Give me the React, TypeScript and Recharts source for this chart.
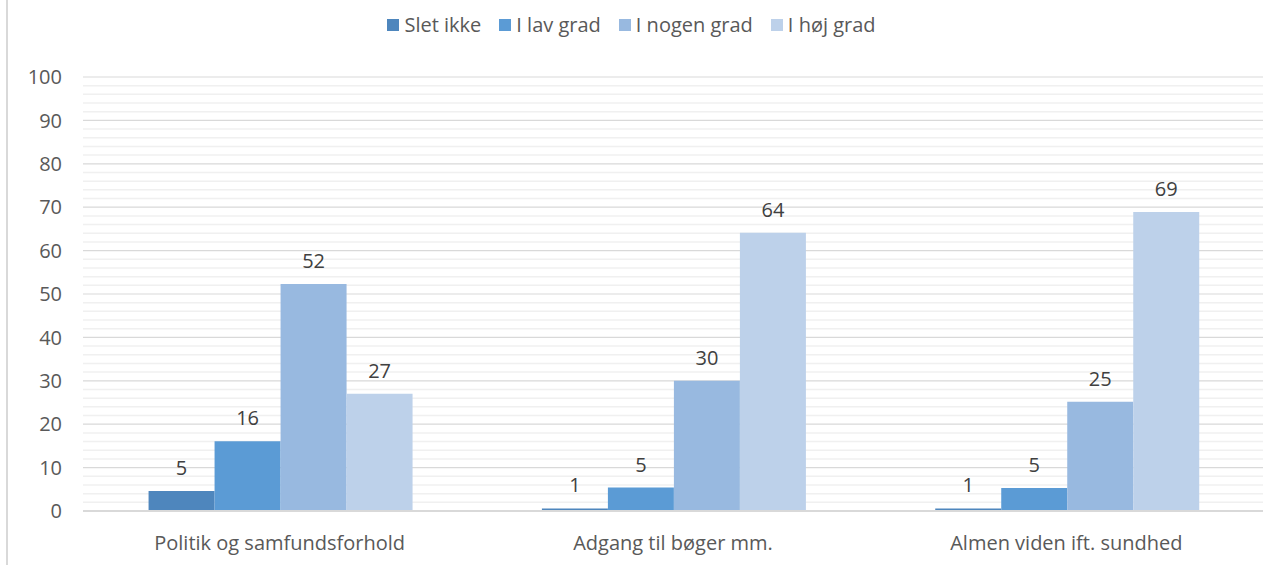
import React from 'react';
import { BarChart, Bar, XAxis, YAxis, CartesianGrid, Legend, LabelList } from 'recharts';

const categories = ['Politik og samfundsforhold', 'Adgang til bøger mm.', 'Almen viden ift. sundhed'];
const seriesNames = ['Slet ikke', 'I lav grad', 'I nogen grad', 'I høj grad'];
const sletIkke = [4.6, 0.6, 0.6];
const lavGrad = [16.1, 5.4, 5.3];
const nogenGrad = [52.3, 30.0, 25.2];
const hojGrad = [27.0, 64.1, 68.9];
const colors = ['#4e86bd', '#5b9bd5', '#98b9e0', '#bdd1ea'];
const gridTicks = [0, 2, 4, 6, 8, 10, 12, 14, 16, 18, 20, 22, 24, 26, 28, 30, 32, 34, 36, 38, 40, 42, 44, 46, 48, 50, 52, 54, 56, 58, 60, 62, 64, 66, 68, 70, 72, 74, 76, 78, 80, 82, 84, 86, 88, 90, 92, 94, 96, 98, 100];

const keys = ['s0', 's1', 's2', 's3'];
const seriesValues = [sletIkke, lavGrad, nogenGrad, hojGrad];
const data = categories.map((c, i) => {
  const row: any = { name: c };
  keys.forEach((k, j) => { row[k] = seriesValues[j][i]; });
  return row;
});

const FONT = '"Open Sans", "Noto Sans", sans-serif';
const FS = 20;

const LegendContent = () => (
  <div style={{ height: 77, display: 'flex', justifyContent: 'center', alignItems: 'flex-start', paddingTop: 12, boxSizing: 'border-box', fontFamily: FONT, fontSize: FS, color: '#595959' }}>
    {seriesNames.map((n, i) => (
      <div key={i} style={{ display: 'flex', alignItems: 'center', marginRight: i < seriesNames.length - 1 ? 18 : 0 }}>
        <div style={{ width: 12, height: 12, background: colors[i], marginRight: 5 }} />
        <span style={{ lineHeight: '26px' }}>{n}</span>
      </div>
    ))}
  </div>
);

const GridLine = (p: any) => {
  const major = (p.index ?? 0) % 5 === 0;
  return (
    <line
      x1={p.x1}
      y1={p.y1}
      x2={p.x2}
      y2={p.y2}
      stroke={major ? '#d9d9d9' : '#f0f0f0'}
      strokeWidth={major ? 1.2 : 1.5}
    />
  );
};

export default function App() {
  return (
    <div style={{ position: 'absolute', left: 0, top: 0, width: 1277, height: 565, background: '#fff' }}>
      <div style={{ position: 'absolute', left: 6, top: 0, width: 2, height: 565, background: '#d9d9d9' }} />
      <BarChart
        width={1277}
        height={565}
        data={data}
        margin={{ top: 0, right: 14, bottom: 0, left: 0 }}
        barCategoryGap="16.67%"
        barGap={0}
      >
        <CartesianGrid vertical={false} horizontal={(p: any) => <GridLine key={p.key} {...p} />} />
        <XAxis
          dataKey="name"
          tickLine={false}
          axisLine={{ stroke: '#d9d9d9', strokeWidth: 2 }}
          height={54}
          tickSize={0}
          tickMargin={25}
          tick={{ fill: '#595959', fontSize: FS, fontFamily: FONT }}
        />
        <YAxis
          domain={[0, 100]}
          ticks={gridTicks}
          interval={0}
          tickFormatter={(v: any) => (Number(v) % 10 === 0 ? String(v) : '')}
          width={83}
          axisLine={false}
          tickLine={false}
          tickSize={0}
          tickMargin={21}
          tick={{ fill: '#595959', fontSize: FS, fontFamily: FONT }}
        />
        <Legend verticalAlign="top" content={<LegendContent />} />
        {keys.map((k, j) => (
          <Bar key={k} dataKey={k} name={seriesNames[j]} fill={colors[j]} isAnimationActive={false}>
            <LabelList
              dataKey={k}
              position="top"
              offset={16}
              formatter={(v: any) => Math.round(Number(v))}
              style={{ fill: '#404040', fontSize: FS, fontFamily: FONT }}
            />
          </Bar>
        ))}
      </BarChart>
    </div>
  );
}
